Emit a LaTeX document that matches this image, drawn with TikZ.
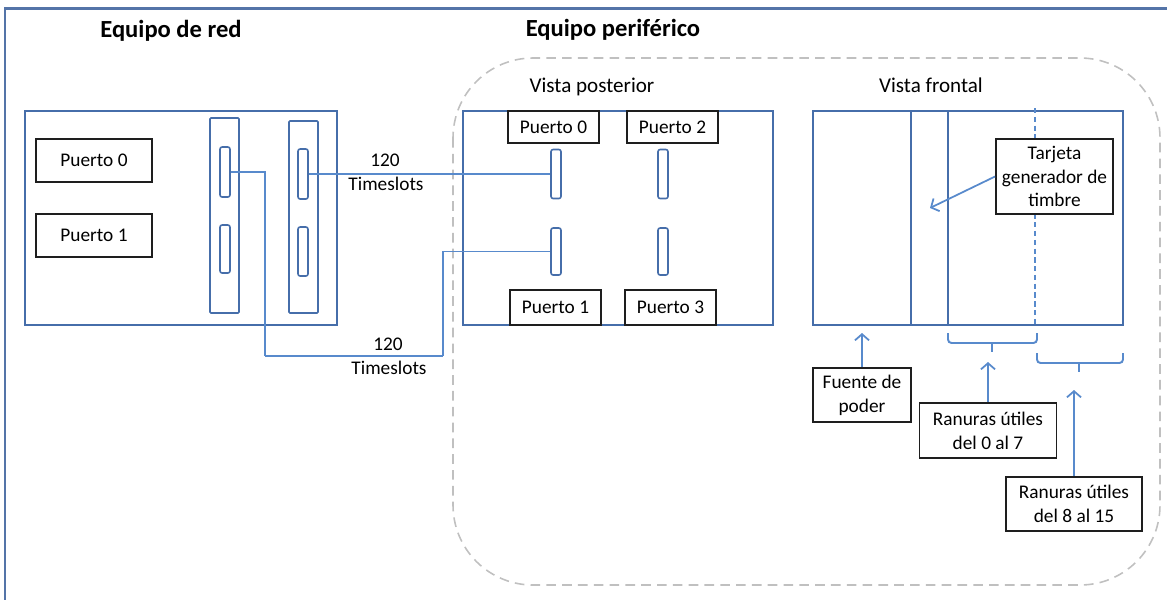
\documentclass[tikz,border=0pt]{standalone}
\usepackage{fontspec}
\setmainfont{Carlito}
\usetikzlibrary{arrows.meta}

\definecolor{framecol}{RGB}{84,116,168}
\definecolor{panelblue}{RGB}{70,110,170}
\definecolor{lineblue}{RGB}{88,138,204}
\definecolor{boxblack}{RGB}{30,30,30}
\definecolor{dashgray}{RGB}{192,192,192}

\tikzset{
  lbl/.style={font=\fontsize{11}{13.5}\selectfont, text=black, inner sep=0pt},
  viewlbl/.style={font=\fontsize{12}{14}\selectfont, text=black, inner sep=0pt},
  title/.style={font=\fontsize{14}{16}\selectfont\bfseries, text=black, inner sep=0pt},
  panel/.style={draw=panelblue, line width=0.9pt, inner sep=0pt},
  card/.style={draw=panelblue, line width=0.9pt, inner sep=0pt, rounded corners=0.6pt},
  slot/.style={draw=panelblue, line width=0.9pt, fill=white, inner sep=0pt,
    minimum width=0.2cm, rounded corners=1.2pt},
  portbox/.style={draw=boxblack, line width=1.1pt, fill=white, inner sep=0pt,
    font=\fontsize{11}{13.5}\selectfont, align=center},
  link/.style={draw=lineblue, line width=1pt},
  pointer/.style={draw=lineblue, line width=1pt,
    -{Straight Barb[length=3.5pt,width=8pt]}},
  brace/.style={draw=lineblue, line width=1.1pt, rounded corners=2pt},
}

\begin{document}
\begin{tikzpicture}[x=0.02cm, y=-0.02cm]
\useasboundingbox (0,0) rectangle (1167,600);

% outer frame (only the top and left edges lie on the page)
\draw[framecol, line width=1.7pt] (1167,8) -- (5,8) -- (5,600);

% peripheral equipment enclosure
\draw[dashgray, line width=0.9pt, dash pattern=on 5.5pt off 3.5pt, rounded corners=1.6cm]
  (453,58) rectangle (1160,585);

% titles
\node[title] (tred) at (171,31) {Equipo de red};
\node[title] (tper) at (613,30) {Equipo periférico};
\node[viewlbl] (vpos) at (592,87) {Vista posterior};
\node[viewlbl] (vfro) at (931,85) {Vista frontal};

% ---------------- network equipment ----------------
\node[panel, minimum width=6.24cm, minimum height=4.28cm] (ne) at (181,218) {};
\node[portbox, minimum width=2.32cm, minimum height=0.86cm] (np0) at (94,160.5) {Puerto 0};
\node[portbox, minimum width=2.32cm, minimum height=0.86cm] (np1) at (94,235.5) {Puerto 1};

\node[card, minimum width=0.58cm, minimum height=3.9cm] (cd1) at (224.5,215.5) {};
\node[card, minimum width=0.58cm, minimum height=3.84cm] (cd2) at (303.5,217) {};

\node[slot, minimum height=1.0cm]  (s1a) at (225,172) {};
\node[slot, minimum height=0.96cm] (s1b) at (225,249) {};
\node[slot, minimum height=1.0cm]  (s2a) at (303,174) {};
\node[slot, minimum height=0.98cm] (s2b) at (303,251.5) {};

% ---------------- rear view ----------------
\node[panel, minimum width=6.2cm, minimum height=4.28cm] (rp) at (618,218) {};
\node[portbox, minimum width=1.82cm, minimum height=0.64cm] (rb0) at (553.5,127) {Puerto 0};
\node[portbox, minimum width=1.82cm, minimum height=0.64cm] (rb2) at (672.5,127) {Puerto 2};
\node[portbox, minimum width=1.82cm, minimum height=0.7cm] (rb1) at (555.5,307.5) {Puerto 1};
\node[portbox, minimum width=1.82cm, minimum height=0.7cm] (rb3) at (670.5,307.5) {Puerto 3};

\node[slot, minimum height=0.98cm] (rs0) at (556,174) {};
\node[slot, minimum height=0.94cm] (rs1) at (556,251.5) {};
\node[slot, minimum height=0.98cm] (rs2) at (663,174) {};
\node[slot, minimum height=0.94cm] (rs3) at (663,251.5) {};

% ---------------- links ----------------
\coordinate (k1) at (265,356);
\coordinate (k2) at (443,356);
\draw[link] (s2a.east) -- (rs0.west);
\draw[link] (s1a.east) -| (k1);
\draw[link, line width=1.4pt] (k1) -- (k2);
\draw[link] (k2) |- (rs1.west);

\node[lbl] (n120a) at (385,160) {120};
\node[lbl] (tsa) at (386,184) {Timeslots};
\node[lbl] (n120b) at (388,344.5) {120};
\node[lbl] (tsb) at (389,368) {Timeslots};

% ---------------- front view ----------------
\node[panel, minimum width=6.2cm, minimum height=4.28cm] (fp) at (968,218) {};
\draw[panelblue, line width=0.9pt] (911,111) -- (911,325);
\draw[panelblue, line width=0.9pt] (948,111) -- (948,325);
\draw[lineblue, line width=0.9pt, dash pattern=on 3pt off 2pt] (1035,108) -- (1035,325);

\node[portbox, minimum width=2.34cm, minimum height=1.5cm] (tg) at (1054.5,176.5)
  {Tarjeta\\generador de\\timbre};
\coordinate (tgtip) at (930,208);
\draw[pointer] (tg.west) -- (tgtip);

% slot groups
\draw[brace] (948,333) -- (948,343) -- (1037,343) -- (1037,333);
\draw[lineblue, line width=1.1pt] (992,343) -- (992,352);
\draw[brace] (1037,353) -- (1037,363) -- (1123,363) -- (1123,353);
\draw[lineblue, line width=1.1pt] (1079,363) -- (1079,372);

\node[portbox, minimum width=1.96cm, minimum height=1.08cm] (fue) at (862,395) {Fuente de\\poder};
\node[portbox, minimum width=2.74cm, minimum height=1.1cm] (r07) at (988,430.5) {Ranuras útiles\\del 0 al 7};
\node[portbox, minimum width=2.72cm, minimum height=1.08cm] (r815) at (1074,504) {Ranuras útiles\\del 8 al 15};

\coordinate (fuetip) at (fue.north |- 0,333);
\coordinate (r07tip) at (r07.north |- 0,362);
\coordinate (r815tip) at (r815.north |- 0,390);
\draw[pointer] (fue.north) -- (fuetip);
\draw[pointer] (r07.north) -- (r07tip);
\draw[pointer] (r815.north) -- (r815tip);
\end{tikzpicture}
\end{document}
